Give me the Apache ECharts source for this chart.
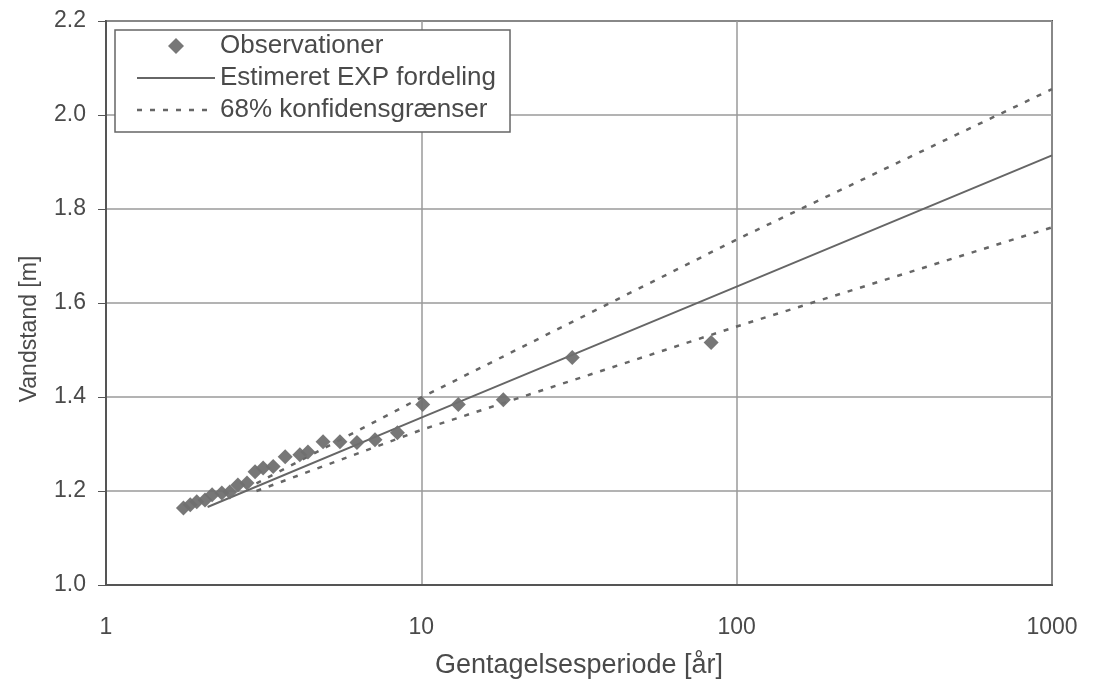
<!DOCTYPE html>
<html>
<head>
<meta charset="utf-8">
<script src="https://cdn.jsdelivr.net/npm/echarts@6/dist/echarts.min.js"></script>
<style>
html,body{margin:0;padding:0;background:#fff;}
#c{width:1096px;height:680px;}
</style>
</head>
<body>
<div id="c"></div>
<script>
// Observations (return period [years], water level [m])
const obsT = [1.76,1.85,1.94,2.06,2.17,2.33,2.47,2.62,2.80,2.97,3.15,3.39,3.70,4.12,4.37,4.88,5.52,6.25,7.13,8.4,10.1,13.1,18.2,30.1,83];
const obsH = [1.164,1.171,1.177,1.181,1.192,1.196,1.198,1.213,1.217,1.241,1.249,1.252,1.273,1.277,1.283,1.305,1.305,1.303,1.309,1.324,1.384,1.384,1.394,1.484,1.516];
// Estimated EXP distribution
const fitT = [2.1, 10, 100, 1000];
const fitH = [1.166, 1.356, 1.635, 1.914];
// 68% confidence limits
const upT = [3, 10, 100, 1000];
const upH = [1.216, 1.399, 1.735, 2.055];
const loT = [3, 10, 100, 1000];
const loH = [1.200, 1.330, 1.550, 1.761];
const xTicks = [1, 10, 100, 1000];
const yTicks = [1.0, 1.2, 1.4, 1.6, 1.8, 2.0, 2.2];
const names = ['Observationer', 'Estimeret EXP fordeling', '68% konfidensgrænser'];

const zip = (a, b) => a.map((v, i) => [v, b[i]]);
const font = 'Liberation Sans, Arial, sans-serif';
const txt = '#4a4a4a';
const diamondIcon = 'path://M0,-1L1,0L0,1L-1,0Z';
const solidIcon = 'path://M0,0H78V2H0Z';
const dottedIcon = 'path://M0,0h5v2.5h-5z M13,0h5v2.5h-5z M26,0h5v2.5h-5z M39,0h5v2.5h-5z M52,0h5v2.5h-5z M65,0h5v2.5h-5z M78,0h0v2.5h0z';

const chart = echarts.init(document.getElementById('c'), null, {renderer: 'canvas'});
chart.setOption({
  backgroundColor: '#fff',
  animation: false,
  grid: {left: 106, right: 44, top: 21, bottom: 95, show: true, borderColor: '#555', borderWidth: 2,
    backgroundColor: 'transparent', outerBoundsMode: 'none', containLabel: false},
  legend: {
    left: 115, top: 30, orient: 'vertical',
    backgroundColor: '#fff', borderColor: '#666', borderWidth: 1.5, borderRadius: 0,
    padding: [3, 14, 9, 22],
    itemWidth: 78, itemHeight: 16, itemGap: 6,
    symbolKeepAspect: true,
    textStyle: {fontFamily: font, fontSize: 26, color: txt},
    data: [
      {name: names[0], icon: diamondIcon, itemStyle: {color: '#707070'}},
      {name: names[1], icon: solidIcon, itemStyle: {color: '#666'}},
      {name: names[2], icon: dottedIcon, itemStyle: {color: '#666'}}
    ]
  },
  xAxis: {
    type: 'log', logBase: 10, min: xTicks[0], max: xTicks[xTicks.length - 1],
    name: 'Gentagelsesperiode [år]', nameLocation: 'middle', nameGap: 67,
    nameTextStyle: {fontFamily: font, fontSize: 27, color: txt},
    axisLine: {show: true, lineStyle: {color: '#555', width: 2}},
    axisTick: {show: false},
    minorTick: {show: false},
    axisLabel: {fontFamily: font, fontSize: 23, color: txt, margin: 31,
      formatter: v => String(Math.round(v))},
    splitLine: {show: true, lineStyle: {color: '#9a9a9a', width: 1.5}}
  },
  yAxis: {
    type: 'value', min: yTicks[0], max: yTicks[yTicks.length - 1], interval: 0.2,
    axisLine: {show: true, lineStyle: {color: '#555', width: 2}},
    axisTick: {show: true, inside: false, length: 8, lineStyle: {color: '#555'}},
    axisLabel: {fontFamily: font, fontSize: 23, color: txt, margin: 20, padding: [5, 0, 0, 0],
      formatter: v => v.toFixed(1)},
    splitLine: {show: true, lineStyle: {color: '#9a9a9a', width: 1.5}}
  },
  graphic: [{
    type: 'text',
    rotation: Math.PI / 2,
    x: 30, y: 329,
    style: {text: 'Vandstand [m]', font: '23px ' + font, fill: txt, textAlign: 'center', textVerticalAlign: 'middle'}
  }],
  series: [
    {
      name: names[1], type: 'line', data: zip(fitT, fitH), symbol: 'none', z: 3,
      lineStyle: {color: '#666', width: 2}, itemStyle: {color: '#666'}
    },
    {
      name: names[2], type: 'line', data: zip(upT, upH), symbol: 'none', z: 3,
      lineStyle: {color: '#666', width: 2.5, type: [5, 8]}, itemStyle: {color: '#666'}
    },
    {
      name: names[2], type: 'line', data: zip(loT, loH), symbol: 'none', z: 3,
      lineStyle: {color: '#666', width: 2.5, type: [5, 8]}, itemStyle: {color: '#666'}
    },
    {
      name: names[0], type: 'scatter', data: zip(obsT, obsH), symbol: 'diamond', symbolSize: 15, z: 4,
      itemStyle: {color: '#707070', opacity: 0.95}
    }
  ]
});
</script>
</body>
</html>
